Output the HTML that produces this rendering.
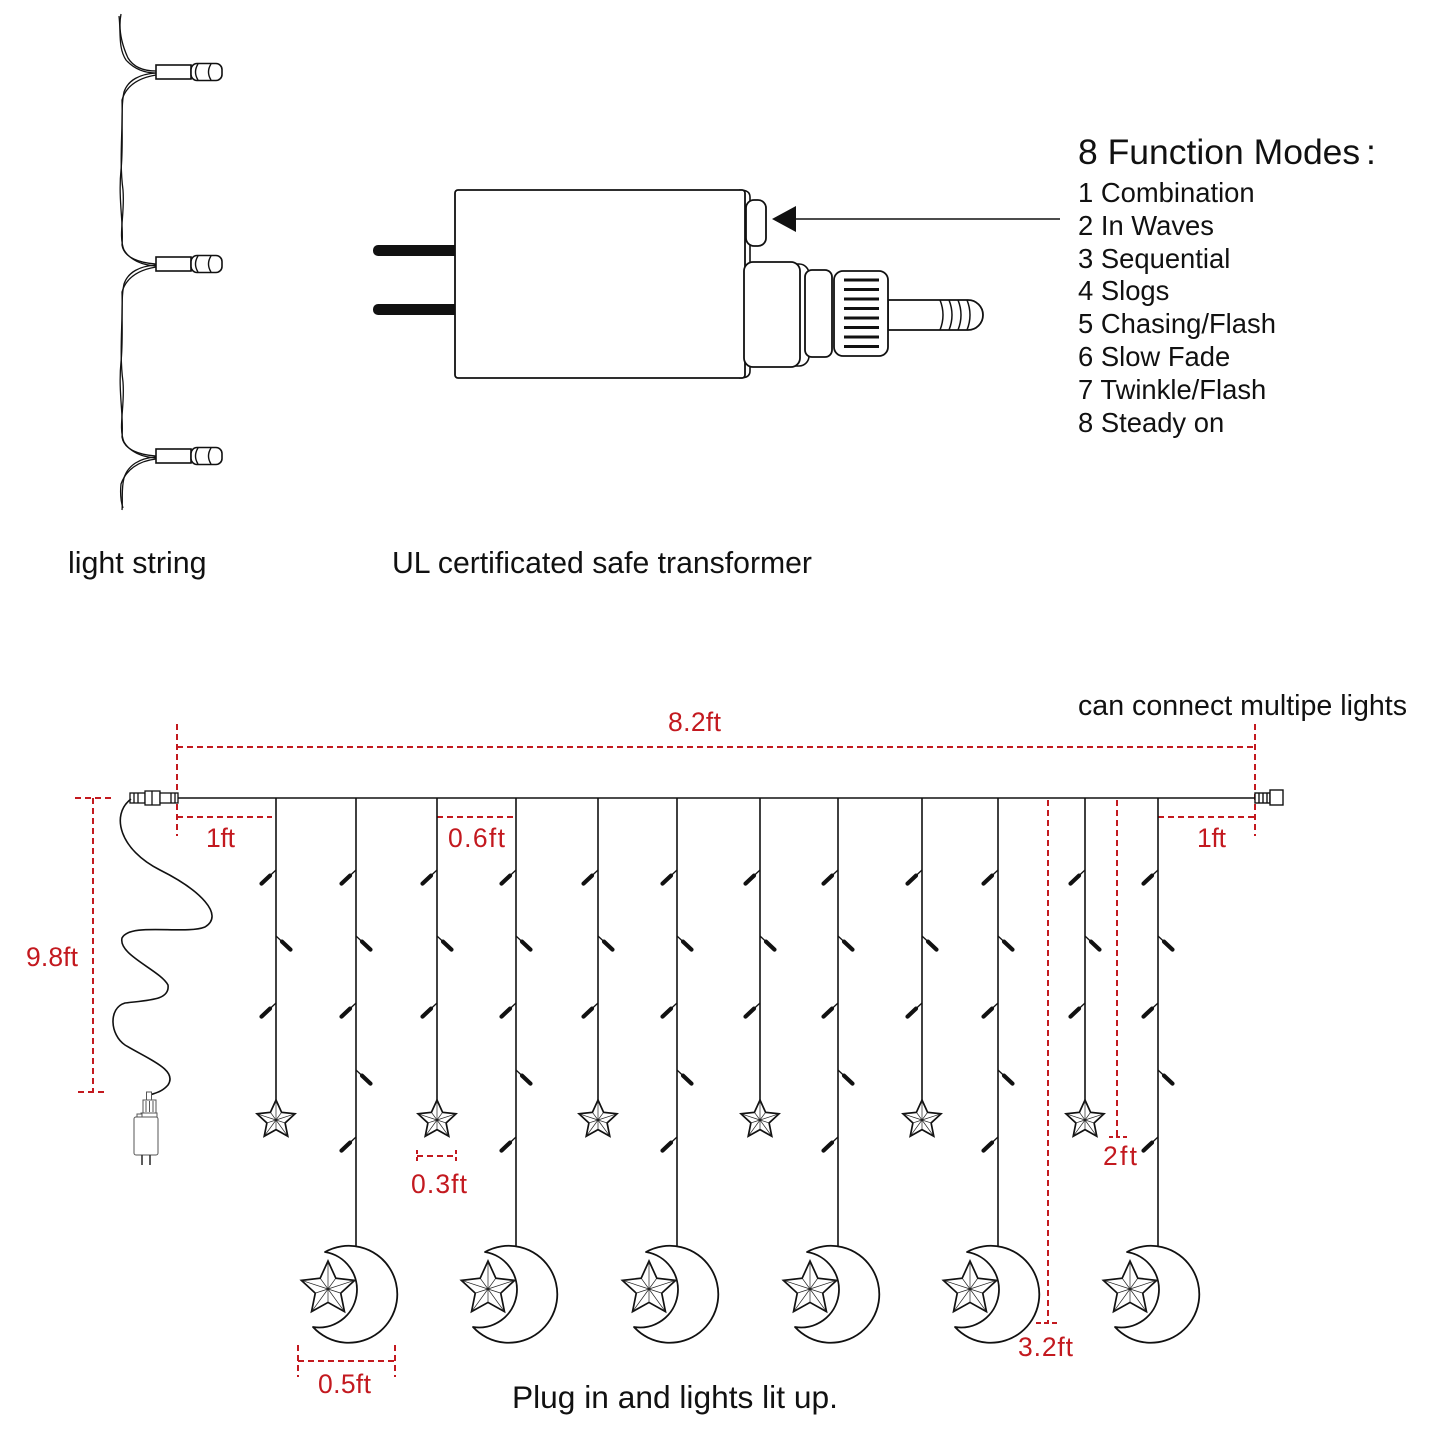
<!DOCTYPE html>
<html><head><meta charset="utf-8"><style>
html,body{margin:0;padding:0;background:#fff;}
svg{display:block;}
.t{font-family:"Liberation Sans",Arial,sans-serif;fill:#111;}
.r{font-family:"Liberation Sans",Arial,sans-serif;fill:#c3191f;font-size:26.5px;}
</style></head><body>
<svg width="1445" height="1445" viewBox="0 0 1445 1445" xmlns="http://www.w3.org/2000/svg">
<defs>
<g id="star">
<path d="M0,-20 L5.6,-7.7 L19.02,-6.18 L9.1,2.95 L11.76,16.18 L0,9.6 L-11.76,16.18 L-9.1,2.95 L-19.02,-6.18 L-5.6,-7.7 Z" fill="#fff" stroke="#111" stroke-width="1.7" stroke-linejoin="miter" vector-effect="non-scaling-stroke"/>
<path d="M0,0 L0,-20 M0,0 L19.02,-6.18 M0,0 L11.76,16.18 M0,0 L-11.76,16.18 M0,0 L-19.02,-6.18 M0,0 L5.6,-7.7 M0,0 L9.1,2.95 M0,0 L0,9.6 M0,0 L-9.1,2.95 M0,0 L-5.6,-7.7" stroke="#222" stroke-width="0.7" fill="none" vector-effect="non-scaling-stroke"/>
</g>
<g id="ledL"><line x1="0" y1="0" x2="-6" y2="5.6" stroke="#111" stroke-width="1.3"/><line x1="-6" y1="5.6" x2="-14.5" y2="13.6" stroke="#111" stroke-width="4.2" stroke-linecap="round"/></g>
<g id="ledR"><line x1="0" y1="0" x2="6" y2="5.6" stroke="#111" stroke-width="1.3"/><line x1="6" y1="5.6" x2="14.5" y2="13.6" stroke="#111" stroke-width="4.2" stroke-linecap="round"/></g>
<g id="moon">
<path d="M-31,7 A48.5 48.5 0 1 1 -43,82 A36.5 36.5 0 0 0 -31,7 Z" fill="#fff" stroke="#111" stroke-width="1.8" stroke-linejoin="round"/>
<use href="#star" transform="translate(-28,44) scale(1.4)"/>
</g>
<g id="bulb">
<rect x="156" y="-7" width="35" height="14" fill="#fff" stroke="#111" stroke-width="1.6"/>
<rect x="191" y="-8.5" width="31" height="17" rx="6" fill="#fff" stroke="#111" stroke-width="1.6"/>
<path d="M198,-8 Q193,0 198,8 M211,-8 Q206,0 211,8" fill="none" stroke="#111" stroke-width="1.4"/>
</g>
</defs>

<!-- top light string -->
<g fill="none" stroke="#111" stroke-width="1.3">
<path d="M121,14 C118,30 122,45 128,58 C134,68 145,71 156,71"/>
<path d="M119,16 C121,32 118,48 126,60 C135,70 146,73 156,73"/>
<path d="M156,73 C140,74 128,80 124,92 C120,110 124,140 121,170 C118,200 124,225 122,245 C124,258 140,263 156,264"/>
<path d="M156,75 C138,78 126,86 122,100 C123,130 119,160 123,190 C125,215 118,235 124,250 C130,260 142,265 156,266"/>
<path d="M156,265 C140,266 128,272 124,284 C120,302 124,332 121,362 C118,392 124,417 122,437 C124,450 140,455 156,456"/>
<path d="M156,267 C138,270 126,278 122,292 C123,322 119,352 123,382 C125,407 118,427 124,442 C130,452 142,457 156,458"/>
<path d="M156,457 C140,458 128,465 124,478 C121,490 123,500 122,510"/>
<path d="M156,459 C138,461 126,470 121,484 C120,494 121,502 123,508"/>
</g>
<use href="#bulb" transform="translate(0,72)"/>
<use href="#bulb" transform="translate(0,264)"/>
<use href="#bulb" transform="translate(0,456)"/>

<!-- transformer -->
<rect x="373" y="245" width="88" height="11" rx="5" fill="#111"/>
<rect x="373" y="304" width="88" height="11" rx="5" fill="#111"/>
<path d="M740,190 Q750,190 750,197 L750,371 Q750,378 740,378 Z" fill="#fff" stroke="#111" stroke-width="1.6"/>
<rect x="455" y="190" width="290" height="188" rx="3" fill="#fff" stroke="#111" stroke-width="1.8"/>
<rect x="746" y="200" width="20" height="46" rx="8" fill="#fff" stroke="#111" stroke-width="1.8"/>
<polygon points="772,219 796,206 796,232" fill="#111"/>
<line x1="796" y1="219" x2="1060" y2="219" stroke="#111" stroke-width="1.5"/>
<rect x="760" y="264" width="49" height="102" rx="10" fill="#fff" stroke="#111" stroke-width="1.6"/>
<rect x="744" y="262" width="56" height="105" rx="9" fill="#fff" stroke="#111" stroke-width="1.8"/>
<rect x="805" y="270" width="27" height="87" rx="7" fill="#fff" stroke="#111" stroke-width="1.8"/>
<path d="M888,300 L968,300 A15,15 0 0 1 968,330 L888,330 Z" fill="#fff" stroke="#111" stroke-width="1.8"/>
<path d="M940,300 Q946,315 940,330 M949,300 Q955,315 949,330 M958,300 Q964,315 958,330 M967,300 Q973,315 967,330" fill="none" stroke="#111" stroke-width="1.5"/>
<rect x="834" y="271" width="54" height="85" rx="9" fill="#fff" stroke="#111" stroke-width="1.8"/>
<g stroke="#111" stroke-width="3">
<line x1="844" y1="280" x2="879" y2="280"/><line x1="844" y1="289.5" x2="879" y2="289.5"/>
<line x1="844" y1="299" x2="879" y2="299"/><line x1="844" y1="308.5" x2="879" y2="308.5"/>
<line x1="844" y1="318" x2="879" y2="318"/><line x1="844" y1="327.5" x2="879" y2="327.5"/>
<line x1="844" y1="337" x2="879" y2="337"/><line x1="844" y1="346.5" x2="879" y2="346.5"/>
</g>

<!-- texts top -->
<text class="t" x="1078" y="164" font-size="35.5">8 Function Modes</text>
<text class="t" x="1366" y="164" font-size="35.5">:</text>
<g class="t" font-size="27.4">
<text x="1078" y="202">1 Combination</text>
<text x="1078" y="235">2 In Waves</text>
<text x="1078" y="268">3 Sequential</text>
<text x="1078" y="300">4 Slogs</text>
<text x="1078" y="333">5 Chasing/Flash</text>
<text x="1078" y="366">6 Slow Fade</text>
<text x="1078" y="399">7 Twinkle/Flash</text>
<text x="1078" y="432">8 Steady on</text>
</g>
<text class="t" x="68" y="573" font-size="30.4">light string</text>
<text class="t" x="392" y="573" font-size="30.2">UL certificated safe transformer</text>
<text class="t" x="1078" y="715" font-size="28.6">can connect multipe lights</text>
<text class="t" x="512" y="1408" font-size="31.7">Plug in and lights lit up.</text>

<!-- dimension lines -->
<g stroke="#c3191f" stroke-width="2" stroke-dasharray="6,4" fill="none">
<line x1="177" y1="747" x2="1255" y2="747"/>
<line x1="177" y1="724" x2="177" y2="836"/>
<line x1="1255" y1="724" x2="1255" y2="836"/>
<line x1="177" y1="817" x2="272" y2="817"/>
<line x1="437" y1="817" x2="516" y2="817"/>
<line x1="1158" y1="817" x2="1255" y2="817"/>
<line x1="93" y1="798" x2="93" y2="1092"/>
<line x1="75" y1="798" x2="115" y2="798"/>
<line x1="78" y1="1092" x2="108" y2="1092"/>
<line x1="417" y1="1156" x2="456" y2="1156"/>
<line x1="417" y1="1150" x2="417" y2="1163" stroke-dasharray="4,3"/>
<line x1="456" y1="1150" x2="456" y2="1163" stroke-dasharray="4,3"/>
<line x1="1117" y1="800" x2="1117" y2="1137"/>
<line x1="1109" y1="1137" x2="1127" y2="1137" stroke-dasharray="4,3"/>
<line x1="1048" y1="800" x2="1048" y2="1323"/>
<line x1="1036" y1="1323" x2="1058" y2="1323" stroke-dasharray="5,3"/>
<line x1="298" y1="1361" x2="395" y2="1361"/>
<line x1="298" y1="1345" x2="298" y2="1377"/>
<line x1="395" y1="1345" x2="395" y2="1377"/>
</g>
<text class="r" x="668" y="731" textLength="53">8.2ft</text>
<text class="r" x="206" y="847" textLength="29">1ft</text>
<text class="r" x="448" y="847" textLength="57">0.6ft</text>
<text class="r" x="1197" y="847" textLength="29">1ft</text>
<text class="r" x="26" y="966" textLength="52">9.8ft</text>
<text class="r" x="411" y="1193" textLength="56">0.3ft</text>
<text class="r" x="1103" y="1165" textLength="34">2ft</text>
<text class="r" x="1018" y="1356" textLength="55">3.2ft</text>
<text class="r" x="318" y="1393" textLength="53">0.5ft</text>

<!-- main line -->
<line x1="177" y1="798" x2="1255" y2="798" stroke="#111" stroke-width="1.6"/>
<!-- left connector -->
<g fill="#fff" stroke="#111" stroke-width="1.3">
<rect x="130" y="793" width="15" height="10"/>
<line x1="134" y1="793" x2="134" y2="803"/><line x1="138" y1="793" x2="138" y2="803"/>
<rect x="145" y="791" width="15" height="14"/>
<line x1="152" y1="791" x2="152" y2="805"/>
<rect x="160" y="793" width="18" height="10"/>
<line x1="171" y1="793" x2="171" y2="803"/><line x1="175" y1="793" x2="175" y2="803"/>
</g>
<!-- right connector -->
<g fill="#fff" stroke="#111" stroke-width="1.4">
<rect x="1255" y="793" width="15" height="10"/>
<line x1="1259" y1="793" x2="1259" y2="803"/><line x1="1263" y1="793" x2="1263" y2="803"/><line x1="1267" y1="793" x2="1267" y2="803"/>
<rect x="1270" y="790" width="13" height="15"/>
</g>

<!-- wavy cord -->
<path d="M131,799 C110,815 120,850 160,870 C200,890 225,915 205,927 C185,935 130,922 122,938 C118,955 160,970 168,985 C170,1000 150,1000 125,1003 C108,1008 110,1035 125,1045 C150,1060 178,1070 168,1085 C162,1092 155,1093 150,1095" fill="none" stroke="#111" stroke-width="1.6"/>
<!-- plug -->
<g fill="#fff" stroke="#555" stroke-width="1">
<rect x="146.5" y="1092" width="5" height="8"/>
<rect x="143" y="1100" width="13" height="13"/>
<line x1="146" y1="1101" x2="146" y2="1112"/><line x1="149.5" y1="1101" x2="149.5" y2="1112"/><line x1="153" y1="1101" x2="153" y2="1112"/>
<rect x="141" y="1113" width="16" height="5"/>
<rect x="137" y="1114" width="5" height="4"/>
<rect x="134" y="1117" width="24" height="38" rx="2"/>
<line x1="142" y1="1155" x2="142" y2="1165" stroke="#333" stroke-width="1.6"/>
<line x1="150" y1="1155" x2="150" y2="1165" stroke="#333" stroke-width="1.6"/>
</g>

<!-- strands -->
<g stroke="#111" stroke-width="1.6">
<line x1="276" y1="798" x2="276" y2="1100"/>
<line x1="437" y1="798" x2="437" y2="1100"/>
<line x1="598" y1="798" x2="598" y2="1100"/>
<line x1="760" y1="798" x2="760" y2="1100"/>
<line x1="922" y1="798" x2="922" y2="1100"/>
<line x1="1085" y1="798" x2="1085" y2="1100"/>
<line x1="356" y1="798" x2="356" y2="1247"/>
<line x1="516" y1="798" x2="516" y2="1247"/>
<line x1="677" y1="798" x2="677" y2="1247"/>
<line x1="838" y1="798" x2="838" y2="1247"/>
<line x1="998" y1="798" x2="998" y2="1247"/>
<line x1="1158" y1="798" x2="1158" y2="1247"/>
</g>
<!-- LEDs star strands -->
<use href="#ledL" x="276" y="870"/><use href="#ledR" x="276" y="936"/><use href="#ledL" x="276" y="1003"/>
<use href="#ledL" x="437" y="870"/><use href="#ledR" x="437" y="936"/><use href="#ledL" x="437" y="1003"/>
<use href="#ledL" x="598" y="870"/><use href="#ledR" x="598" y="936"/><use href="#ledL" x="598" y="1003"/>
<use href="#ledL" x="760" y="870"/><use href="#ledR" x="760" y="936"/><use href="#ledL" x="760" y="1003"/>
<use href="#ledL" x="922" y="870"/><use href="#ledR" x="922" y="936"/><use href="#ledL" x="922" y="1003"/>
<use href="#ledL" x="1085" y="870"/><use href="#ledR" x="1085" y="936"/><use href="#ledL" x="1085" y="1003"/>
<!-- LEDs moon strands -->
<use href="#ledL" x="356" y="870"/><use href="#ledR" x="356" y="936"/><use href="#ledL" x="356" y="1003"/><use href="#ledR" x="356" y="1070"/><use href="#ledL" x="356" y="1137"/>
<use href="#ledL" x="516" y="870"/><use href="#ledR" x="516" y="936"/><use href="#ledL" x="516" y="1003"/><use href="#ledR" x="516" y="1070"/><use href="#ledL" x="516" y="1137"/>
<use href="#ledL" x="677" y="870"/><use href="#ledR" x="677" y="936"/><use href="#ledL" x="677" y="1003"/><use href="#ledR" x="677" y="1070"/><use href="#ledL" x="677" y="1137"/>
<use href="#ledL" x="838" y="870"/><use href="#ledR" x="838" y="936"/><use href="#ledL" x="838" y="1003"/><use href="#ledR" x="838" y="1070"/><use href="#ledL" x="838" y="1137"/>
<use href="#ledL" x="998" y="870"/><use href="#ledR" x="998" y="936"/><use href="#ledL" x="998" y="1003"/><use href="#ledR" x="998" y="1070"/><use href="#ledL" x="998" y="1137"/>
<use href="#ledL" x="1158" y="870"/><use href="#ledR" x="1158" y="936"/><use href="#ledL" x="1158" y="1003"/><use href="#ledR" x="1158" y="1070"/><use href="#ledL" x="1158" y="1137"/>

<!-- hanging stars -->
<use href="#star" transform="translate(276,1120)"/>
<use href="#star" transform="translate(437,1120)"/>
<use href="#star" transform="translate(598,1120)"/>
<use href="#star" transform="translate(760,1120)"/>
<use href="#star" transform="translate(922,1120)"/>
<use href="#star" transform="translate(1085,1120)"/>

<!-- moons -->
<use href="#moon" transform="translate(356,1245)"/>
<use href="#moon" transform="translate(516,1245)"/>
<use href="#moon" transform="translate(677,1245)"/>
<use href="#moon" transform="translate(838,1245)"/>
<use href="#moon" transform="translate(998,1245)"/>
<use href="#moon" transform="translate(1158,1245)"/>
</svg>
</body></html>
